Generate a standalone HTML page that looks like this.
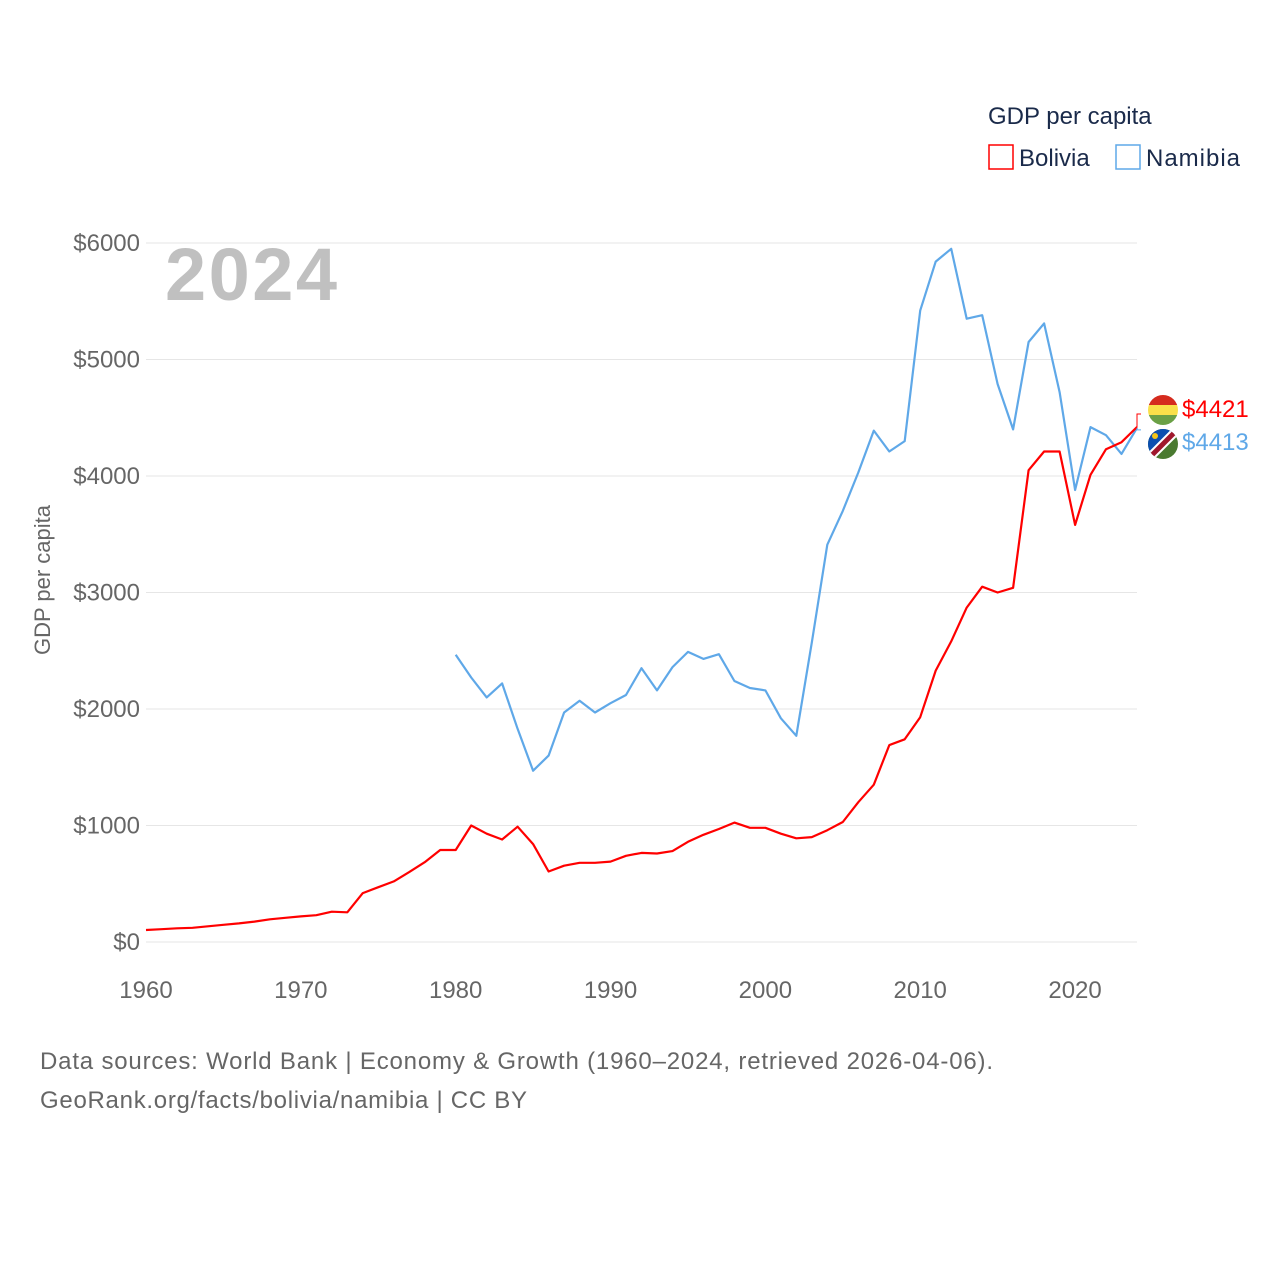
<!DOCTYPE html>
<html><head><meta charset="utf-8"><style>
body{margin:0;background:#fff;width:1280px;height:1280px;overflow:hidden;font-family:"Liberation Sans",sans-serif}
svg text{font-family:"Liberation Sans",sans-serif}
</style></head><body>
<svg id="chart" width="1280" height="1280" xmlns="http://www.w3.org/2000/svg">
<g id="grid"></g>
<text x="165" y="300" font-size="74" font-weight="bold" fill="#c0c0c0" textLength="172">2024</text>
<text transform="translate(50,580) rotate(-90)" text-anchor="middle" font-size="22" fill="#666">GDP per capita</text>
<g id="lines"></g>
<g>
<text x="988" y="124" font-size="24" fill="#1a2a4a">GDP per capita</text>
<g><rect x="989" y="145" width="24" height="24" fill="none" stroke="#ff0000" stroke-width="1.5"/><text x="1019" y="166" font-size="24" fill="#1a2a4a">Bolivia</text></g>
<g><rect x="1116" y="145" width="24" height="24" fill="none" stroke="#5fa8e8" stroke-width="1.5"/><text x="1146" y="166" font-size="24" fill="#1a2a4a" textLength="94">Namibia</text></g>
</g>
<g id="endlabels"></g>
<text x="40" y="1069" font-size="24" fill="#666" textLength="953">Data sources: World Bank | Economy &amp; Growth (1960–2024, retrieved 2026-04-06).</text>
<text x="40" y="1108" font-size="24" fill="#666" textLength="487">GeoRank.org/facts/bolivia/namibia | CC BY</text>
</svg>
<script>
const boliviaStart = 1960;
const bolivia = [103,110,118,122,135,148,160,175,195,208,220,230,260,255,420,470,520,600,685,790,790,1000,930,880,990,840,605,655,680,680,690,740,765,760,780,860,920,970,1025,980,980,930,890,900,960,1030,1200,1350,1690,1740,1930,2330,2580,2870,3050,3000,3040,4050,4210,4210,3580,4010,4230,4290,4421];
const namibiaStart = 1980;
const namibia = [2465,2270,2100,2220,1830,1470,1600,1970,2070,1970,2050,2120,2350,2160,2360,2490,2430,2470,2240,2180,2160,1920,1770,2570,3410,3700,4030,4390,4210,4300,5420,5840,5950,5350,5380,4790,4400,5150,5310,4720,3880,4420,4350,4190,4413];
const yTicks = [0,1000,2000,3000,4000,5000,6000];
const xTicks = [1960,1970,1980,1990,2000,2010,2020];
const NS="http://www.w3.org/2000/svg";
const x = yr => 146 + (yr-1960)*(1137-146)/64;
const y = v => 942 - v*(942-243)/6000;
function mk(tag, attrs, parent){const e=document.createElementNS(NS,tag);for(const k in attrs)e.setAttribute(k,attrs[k]);parent.appendChild(e);return e;}
const grid=document.getElementById('grid');
yTicks.forEach(v=>{
  const l=mk('line',{x1:146,x2:1137,y1:y(v),y2:y(v),stroke:'#e6e6e6','stroke-width':1},grid);
  
  
  const t=mk('text',{x:140,y:y(v)+8,'text-anchor':'end','font-size':24,fill:'#666'},grid);
  t.textContent='$'+v;
  
  
});
xTicks.forEach(yr=>{
  const t=mk('text',{x:x(yr),y:998,'text-anchor':'middle','font-size':24,fill:'#666'},grid);
  t.textContent=yr;
  
  
});
const lines=document.getElementById('lines');
function draw(arr,start,color,name){
  const d=arr.map((v,i)=>(i?'L':'M')+x(start+i).toFixed(1)+','+y(v).toFixed(1)).join('');
  const p=mk('path',{d:d,fill:'none',stroke:color,'stroke-width':2.2,'stroke-linejoin':'round'},lines);
  
  
}
draw(namibia,namibiaStart,'#5fa8e8','namibia-line');
draw(bolivia,boliviaStart,'#ff0000','bolivia-line');
const el=document.getElementById('endlabels');
const bl=bolivia[bolivia.length-1], nl=namibia[namibia.length-1];
const ex=x(2024);
mk('path',{d:`M${ex},${y(bl)}L${ex},${y(bl)-13}L${ex+4},${y(bl)-13}`,fill:'none',stroke:'#ff0000','stroke-width':1},el);
mk('path',{d:`M${ex},${y(nl)}L${ex},${y(nl)+2}L${ex+4},${y(nl)+2}`,fill:'none',stroke:'#5fa8e8','stroke-width':1},el);
const fb=mk('g',{},el);


const cb=mk('clipPath',{id:'cb'},fb);mk('circle',{cx:1163,cy:410,r:15},cb);
const gb=mk('g',{'clip-path':'url(#cb)'},fb);
mk('rect',{x:1148,y:395,width:30,height:10,fill:'#d52b1e'},gb);
mk('rect',{x:1148,y:405,width:30,height:10,fill:'#f9e04a'},gb);
mk('rect',{x:1148,y:415,width:30,height:10,fill:'#6aa046'},gb);
const tb=mk('text',{x:1182,y:417,'font-size':24,fill:'#ff0000'},el);
tb.textContent='$'+bl;


const fn=mk('g',{},el);


const cp=mk('clipPath',{id:'cn'},fn);mk('circle',{cx:1163,cy:444,r:15},cp);
const gn=mk('g',{'clip-path':'url(#cn)'},fn);
mk('rect',{x:1148,y:429,width:30,height:30,fill:'#4a7a30'},gn);
mk('polygon',{points:'1148,429 1178,429 1148,459',fill:'#0b4fb0'},gn);
mk('line',{x1:1146,y1:461,x2:1180,y2:427,stroke:'#fff','stroke-width':9},gn);
mk('line',{x1:1146,y1:461,x2:1180,y2:427,stroke:'#a0182c','stroke-width':5},gn);
mk('circle',{cx:1155,cy:436,r:3,fill:'#f5c518'},gn);
const tn=mk('text',{x:1182,y:450,'font-size':24,fill:'#5fa8e8'},el);
tn.textContent='$'+nl;


</script>
</body></html>
